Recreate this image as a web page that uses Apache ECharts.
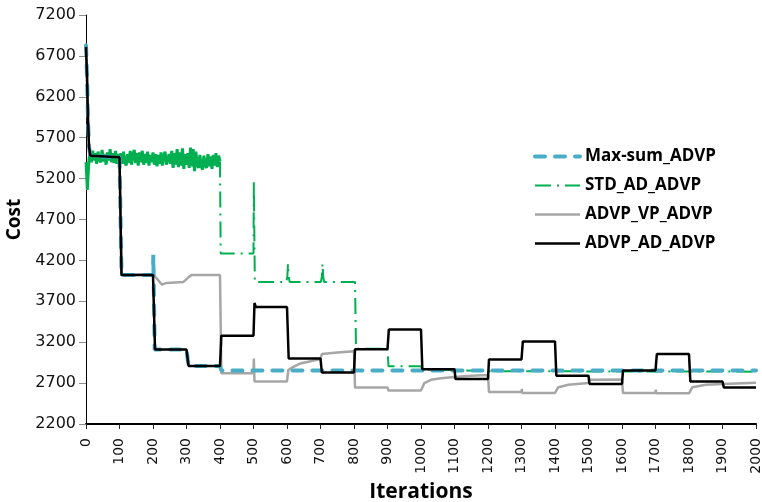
<!DOCTYPE html>
<html>
<head>
<meta charset="utf-8">
<script src="https://cdn.jsdelivr.net/npm/echarts@6/dist/echarts.min.js"></script>
<style>
  html, body { margin: 0; padding: 0; background: #fff; }
  #chart { width: 762px; height: 502px; }
</style>
</head>
<body>
<div id="chart"></div>
<script>
// Cost tick labels on the vertical axis
const costTicks = [2200, 2700, 3200, 3700, 4200, 4700, 5200, 5700, 6200, 6700, 7200];

// Max-sum_ADVP
const maxSumIter = [0, 3, 6, 9, 13, 17, 100, 106, 200, 201, 205, 300, 306, 400, 404, 2000];
const maxSumCost = [6830, 6450, 5920, 5590, 5480, 5460, 5460, 4020, 4020, 4270, 3110, 3110, 2910, 2910, 2855, 2855];

// STD_AD_ADVP: start-up and noisy plateau (iterations 0..400)
const stdStartIter = [0, 2, 4, 6, 9];
const stdStartCost = [5400, 5250, 5060, 5230, 5430];
const stdNoiseFirstIter = 12;
const stdNoiseStep = 4;
const stdNoiseCost = [
  5520, 5400, 5540, 5420, 5510, 5380, 5530, 5430, 5400, 5550, 5410, 5500, 5370, 5520, 5420, 5560, 5400, 5510, 5390, 5540, 5380, 5500, 5430,
  5510, 5380, 5530, 5400, 5360, 5500, 5390, 5540, 5370, 5490, 5550, 5390, 5510, 5360, 5520, 5400, 5540, 5370, 5500, 5390, 5530, 5360, 5490, 5400, 5520,
  5370, 5500, 5350, 5490, 5380, 5520, 5360, 5480, 5530, 5370, 5350, 5500, 5380, 5540, 5330, 5510, 5370, 5560, 5340, 5520, 5360, 5570, 5320, 5500, 5370,
  5510, 5330, 5580, 5350, 5560, 5290, 5530, 5370, 5330, 5490, 5350, 5310, 5480, 5360, 5330, 5500, 5350, 5470, 5320, 5490, 5360, 5510, 5340, 5480, 5410
];
// STD_AD_ADVP: stepped part (iterations 400..2000)
const stdIter = [400, 402, 500, 501, 504, 598, 601, 603, 605, 608, 701, 704, 706, 708, 711, 803, 806, 900, 903, 1000, 1004, 1100, 1200, 2000];
const stdCost = [5410, 4285, 4285, 5160, 3935, 3935, 4000, 4160, 4000, 3935, 3935, 4000, 4160, 4000, 3935, 3935, 3120, 3120, 2905, 2905, 2865, 2860, 2845, 2840];

// ADVP_VP_ADVP
const vpIter = [0, 3, 6, 9, 13, 17, 100, 106, 200, 211, 226, 241, 290, 305, 315, 400, 404, 500, 501, 503,
  600, 604, 615, 640, 690, 700, 704, 750, 800, 803, 900, 903, 1000, 1010, 1030, 1060, 1100, 1150, 1200, 1203,
  1300, 1301, 1302, 1400, 1410, 1440, 1500, 1502, 1600, 1603, 1700, 1701, 1702, 1800, 1810, 1850, 1900, 2000];
const vpCost = [6810, 6450, 5920, 5590, 5480, 5460, 5460, 4020, 4030, 3980, 3905, 3925, 3935, 3990, 4020, 4020, 2820, 2820, 3000, 2720,
  2720, 2860, 2890, 2940, 2985, 2995, 3055, 3075, 3090, 2645, 2645, 2610, 2610, 2700, 2740, 2760, 2775, 2790, 2800, 2590,
  2590, 2630, 2580, 2580, 2650, 2680, 2700, 2740, 2745, 2580, 2580, 2620, 2575, 2575, 2650, 2680, 2690, 2705];

// ADVP_AD_ADVP
const adIter = [0, 3, 6, 9, 13, 17, 100, 106, 200, 206, 300, 306, 400, 404, 500, 503, 507, 600, 605, 700, 704,
  800, 803, 900, 904, 1000, 1004, 1100, 1103, 1200, 1203, 1300, 1304, 1400, 1404, 1500, 1503, 1600, 1603,
  1700, 1704, 1800, 1804, 1900, 1904, 2000];
const adCost = [6810, 6450, 5920, 5590, 5480, 5460, 5460, 4020, 4020, 3110, 3110, 2910, 2910, 3280, 3280, 3680, 3630, 3630, 3000, 3000, 2830,
  2830, 3115, 3115, 3355, 3355, 2870, 2870, 2750, 2750, 2990, 2990, 3210, 3210, 2790, 2790, 2690, 2690, 2855,
  2855, 3055, 3055, 2720, 2720, 2645, 2645];

const legendNames = ['Max-sum_ADVP', 'STD_AD_ADVP', 'ADVP_VP_ADVP', 'ADVP_AD_ADVP'];

function pairs(xs, ys) {
  return xs.map(function (x, i) { return [x, ys[i]]; });
}

const stdNoisePoints = pairs(stdStartIter, stdStartCost).concat(
  stdNoiseCost.map(function (c, i) { return [stdNoiseFirstIter + i * stdNoiseStep, c]; })
);

const tickFont = 'DejaVu Sans';
const boldFont = 'Open Sans';
const plainNumber = function (v) { return String(v); };

const chart = echarts.init(document.getElementById('chart'), null, { renderer: 'canvas' });

chart.setOption({
  animation: false,
  backgroundColor: '#ffffff',
  grid: { left: 86, right: 6, top: 15, bottom: 78, outerBoundsMode: 'none', containLabel: false },
  legend: {
    orient: 'vertical',
    left: 528,
    top: 143,
    itemWidth: 45,
    itemHeight: 14,
    itemGap: 12,
    data: legendNames,
    itemStyle: { opacity: 0 },
    lineStyle: { width: 'inherit' },
    textStyle: { fontFamily: boldFont, fontWeight: 'bold', fontSize: 17, color: '#000' }
  },
  xAxis: {
    type: 'value',
    min: 0,
    max: 2000,
    interval: 100,
    name: 'Iterations',
    nameLocation: 'middle',
    nameGap: 58,
    nameTextStyle: { fontFamily: boldFont, fontWeight: 'bold', fontSize: 21, color: '#000' },
    axisLine: { show: true, onZero: false, lineStyle: { color: '#000', width: 2 } },
    axisTick: { show: true, length: 5, lineStyle: { color: '#222', width: 1 } },
    axisLabel: { rotate: 90, margin: 14, fontFamily: tickFont, fontSize: 14, color: '#111', formatter: plainNumber },
    splitLine: { show: false }
  },
  yAxis: {
    type: 'value',
    min: 2200,
    max: 7200,
    name: 'Cost',
    nameLocation: 'middle',
    nameGap: 61,
    nameRotate: 90,
    nameTextStyle: { fontFamily: boldFont, fontWeight: 'bold', fontSize: 19, color: '#000' },
    axisLine: { show: true, lineStyle: { color: '#000', width: 1 } },
    axisTick: { show: true, length: 7, customValues: costTicks, lineStyle: { color: '#8c8c8c', width: 1 } },
    axisLabel: { customValues: costTicks, margin: 10, fontFamily: tickFont, fontSize: 16, color: '#111', formatter: plainNumber },
    splitLine: { show: false }
  },
  series: [
    {
      name: 'STD_AD_ADVP', type: 'line', symbol: 'none', color: '#00b050', z: 1,
      data: pairs(stdIter, stdCost),
      lineStyle: { color: '#00b050', width: 2, type: [16, 6, 2, 6] }
    },
    {
      name: 'STD_AD_ADVP', type: 'line', symbol: 'none', color: '#00b050', z: 1,
      data: stdNoisePoints,
      lineStyle: { color: '#00b050', width: 3 }
    },
    {
      name: 'ADVP_VP_ADVP', type: 'line', symbol: 'none', color: '#a6a6a6', z: 2,
      data: pairs(vpIter, vpCost),
      lineStyle: { color: '#a6a6a6', width: 2.5 }
    },
    {
      name: 'Max-sum_ADVP', type: 'line', symbol: 'none', color: '#4bacc6', z: 3,
      data: pairs(maxSumIter, maxSumCost),
      lineStyle: { color: '#4bacc6', width: 4, type: [10, 10], cap: 'round' }
    },
    {
      name: 'ADVP_AD_ADVP', type: 'line', symbol: 'none', color: '#000000', z: 4,
      data: pairs(adIter, adCost),
      lineStyle: { color: '#000000', width: 2.5 }
    }
  ]
});
</script>
</body>
</html>
